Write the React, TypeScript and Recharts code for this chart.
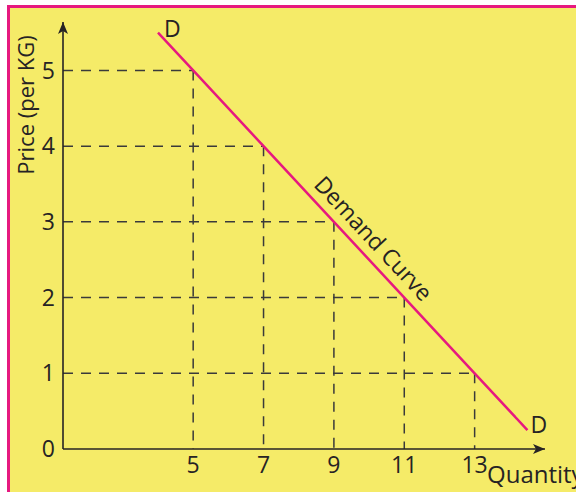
import { Line, LineChart, ReferenceLine, XAxis, YAxis } from "recharts";

// demand schedule (quantity -> price), with the curve's two loose ends
const quantities = [4, 5, 7, 9, 11, 13, 14.5];
const prices = [5.5, 5, 4, 3, 2, 1, 0.25];

// points picked out with dashed guides
const markedQty = [5, 7, 9, 11, 13];
const markedPrice = [5, 4, 3, 2, 1];

const xTicks = [5, 7, 9, 11, 13];
const yTicks = [0, 1, 2, 3, 4, 5];

const X_MIN = 1.3;
const X_MAX = 15;
const Y_MAX = 5.64;

const data = quantities.map((q, i) => ({ q, p: prices[i] }));

const INK = "#262324";
const CURVE = "#E6197F";
const FONT = "'Open Sans', sans-serif";

const renderCurveLabel = (props: any) => {
  const x = props.x ?? props.viewBox?.x;
  const y = props.y ?? props.viewBox?.y;
  const { index } = props;
  if (x == null || y == null) return null;
  if (index === 0) {
    return (
      <text x={x + 6} y={y + 4} fill={INK} fontSize={23} fontFamily={FONT}>
        D
      </text>
    );
  }
  if (index === data.length - 1) {
    return (
      <text x={x + 3} y={y + 3} fill={INK} fontSize={23} fontFamily={FONT}>
        D
      </text>
    );
  }
  if (index === 3) {
    const cx = x + 40;
    const cy = y + 16;
    return (
      <text
        x={cx}
        y={cy}
        transform={`rotate(47 ${cx} ${cy})`}
        textAnchor="middle"
        dominantBaseline="central"
        fill={INK}
        fontSize={23}
        fontFamily={FONT}
      >
        Demand Curve
      </text>
    );
  }
  return null;
};

export default function App() {
  return (
    <div
      style={{
        position: "fixed",
        left: 7,
        top: 5,
        width: 569,
        height: 487,
        boxSizing: "border-box",
        background: "#F5EB68",
        borderTop: `3px solid ${CURVE}`,
        borderLeft: `3px solid ${CURVE}`,
      }}
    >
      <LineChart
        width={566}
        height={484}
        data={data}
        margin={{ top: 14, right: 31, bottom: 13, left: 0 }}
      >
        <defs>
          <marker
            id="arrowHead"
            viewBox="0 0 12 10"
            refX={12}
            refY={5}
            markerWidth={12}
            markerHeight={10}
            markerUnits="userSpaceOnUse"
            orient="auto-start-reverse"
          >
            <path d="M0,0 L12,5 L0,10 L3,5 z" fill={INK} />
          </marker>
        </defs>
        <XAxis
          type="number"
          dataKey="q"
          domain={[X_MIN, X_MAX]}
          ticks={xTicks}
          allowDataOverflow
          height={30}
          tickLine={false}
          axisLine={{ stroke: INK, strokeWidth: 1.6, markerEnd: "url(#arrowHead)" }}
          tick={{ fill: INK, fontSize: 23, fontFamily: FONT }}
          label={{
            content: (props: any) => {
              const vb = props.viewBox;
              return (
                <text
                  x={vb.x + vb.width - 58}
                  y={vb.y + 34}
                  fill={INK}
                  fontSize={24}
                  fontFamily={FONT}
                >
                  Quantity
                </text>
              );
            },
          }}
        />
        <YAxis
          type="number"
          domain={[0, Y_MAX]}
          ticks={yTicks}
          allowDataOverflow
          width={53}
          tickLine={false}
          axisLine={{ stroke: INK, strokeWidth: 1.6, markerStart: "url(#arrowHead)" }}
          tick={{ fill: INK, fontSize: 23, fontFamily: FONT }}
          label={{
            content: (props: any) => {
              const vb = props.viewBox;
              const cx = vb.x + 24;
              const cy = vb.y + 83;
              return (
                <text
                  x={cx}
                  y={cy}
                  transform={`rotate(-90 ${cx} ${cy})`}
                  textAnchor="middle"
                  fill={INK}
                  fontSize={22}
                  fontFamily={FONT}
                >
                  Price (per KG)
                </text>
              );
            },
          }}
        />
        {markedQty.map((q, i) => (
          <ReferenceLine
            key={`h-${q}`}
            segment={[
              { x: X_MIN, y: markedPrice[i] },
              { x: q, y: markedPrice[i] },
            ]}
            stroke="#3a3a3a"
            strokeWidth={1.5}
            strokeDasharray="10 8"
          />
        ))}
        {markedQty.map((q, i) => (
          <ReferenceLine
            key={`v-${q}`}
            segment={[
              { x: q, y: markedPrice[i] },
              { x: q, y: 0 },
            ]}
            stroke="#3a3a3a"
            strokeWidth={1.5}
            strokeDasharray="10 8"
          />
        ))}
        <Line
          type="linear"
          dataKey="p"
          stroke={CURVE}
          strokeWidth={2.5}
          dot={false}
          activeDot={false}
          label={renderCurveLabel}
          isAnimationActive={false}
        />
      </LineChart>
    </div>
  );
}
